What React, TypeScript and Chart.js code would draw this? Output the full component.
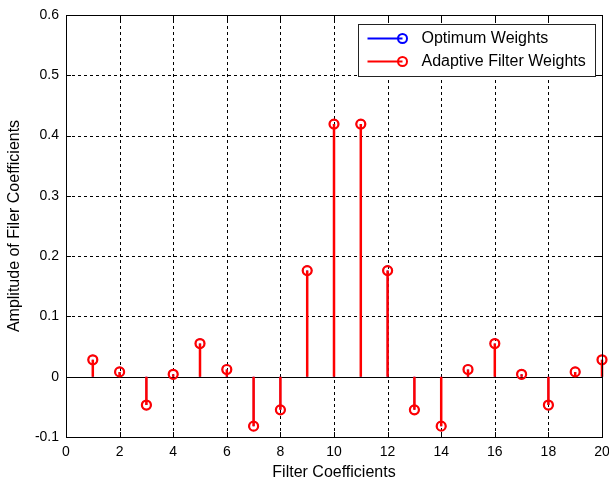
import React, { useEffect, useRef } from "react";
import { Chart, registerables } from "chart.js";

Chart.register(...registerables);

// ---- data ----
const coefficientIndex = [1, 2, 3, 4, 5, 6, 7, 8, 9, 10, 11, 12, 13, 14, 15, 16, 17, 18, 19, 20];
const optimumWeights = [0.028, 0.008, -0.047, 0.004, 0.055, 0.012, -0.082, -0.055, 0.176, 0.419, 0.419, 0.176, -0.055, -0.082, 0.012, 0.055, 0.004, -0.047, 0.008, 0.028];
const adaptiveWeights = [0.028, 0.008, -0.047, 0.004, 0.055, 0.012, -0.082, -0.055, 0.176, 0.419, 0.419, 0.176, -0.055, -0.082, 0.012, 0.055, 0.004, -0.047, 0.008, 0.028];
const xTickValues = [0, 2, 4, 6, 8, 10, 12, 14, 16, 18, 20];
const yTickValues = [-0.1, 0, 0.1, 0.2, 0.3, 0.4, 0.5, 0.6];
const seriesLabels = ["Optimum Weights", "Adaptive Filter Weights"];
const seriesColors = ["#0000FF", "#FF0000"];
const xTitle = "Filter Coefficients";
const yTitle = "Amplitude of Filer Coefficients";

const FONT = "'Liberation Sans', Arial, sans-serif";

function stemPoints(values: number[]) {
  const pts: { x: number; y: number | null }[] = [];
  coefficientIndex.forEach((x, i) => {
    pts.push({ x, y: 0 });
    pts.push({ x, y: values[i] });
    pts.push({ x, y: null });
  });
  return pts;
}

const framePlugin = {
  id: "matlabFrame",
  beforeDatasetsDraw(chart: any) {
    const { ctx, chartArea, scales } = chart;
    const { left, right, top, bottom } = chartArea;
    ctx.save();
    // dashed grid (MATLAB ':' grid)
    ctx.strokeStyle = "#000";
    ctx.lineWidth = 1;
    ctx.setLineDash([3, 3]);
    ctx.beginPath();
    xTickValues.forEach((v) => {
      const px = Math.round(scales.x.getPixelForValue(v)) + 0.5;
      ctx.moveTo(px, bottom);
      ctx.lineTo(px, top);
    });
    yTickValues.forEach((v) => {
      const py = Math.round(scales.y.getPixelForValue(v)) + 0.5;
      ctx.moveTo(left, py);
      ctx.lineTo(right, py);
    });
    ctx.stroke();
    // stem baseline
    ctx.setLineDash([]);
    const y0 = Math.round(scales.y.getPixelForValue(0)) + 0.5;
    ctx.beginPath();
    ctx.moveTo(left, y0);
    ctx.lineTo(right, y0);
    ctx.stroke();
    ctx.restore();
  },
  afterDatasetsDraw(chart: any) {
    const { ctx, chartArea, scales } = chart;
    const { left, right, top, bottom } = chartArea;
    ctx.save();
    ctx.strokeStyle = "#000";
    ctx.lineWidth = 1;
    ctx.setLineDash([]);
    ctx.strokeRect(Math.round(left) + 0.5, Math.round(top) + 0.5, Math.round(right - left), Math.round(bottom - top));
    const tl = 5;
    ctx.beginPath();
    xTickValues.forEach((v) => {
      const px = Math.round(scales.x.getPixelForValue(v)) + 0.5;
      ctx.moveTo(px, bottom);
      ctx.lineTo(px, bottom - tl);
      ctx.moveTo(px, top);
      ctx.lineTo(px, top + tl);
    });
    yTickValues.forEach((v) => {
      const py = Math.round(scales.y.getPixelForValue(v)) + 0.5;
      ctx.moveTo(left, py);
      ctx.lineTo(left + tl, py);
      ctx.moveTo(right, py);
      ctx.lineTo(right - tl, py);
    });
    ctx.stroke();

    // legend box (MATLAB style, inside axes, top-right)
    const boxW = 237;
    const boxH = 52;
    const bx = Math.round(right - 7 - boxW) + 0.5;
    const by = Math.round(top + 9) + 0.5;
    ctx.fillStyle = "#fff";
    ctx.fillRect(bx, by, boxW, boxH);
    ctx.strokeStyle = "#222";
    ctx.strokeRect(bx, by, boxW, boxH);
    chart.data.datasets.forEach((ds: any, i: number) => {
      const ly = by + 14 + i * 23;
      ctx.strokeStyle = ds.borderColor;
      ctx.lineWidth = 2;
      ctx.beginPath();
      ctx.moveTo(bx + 9, ly);
      ctx.lineTo(bx + 44, ly);
      ctx.stroke();
      ctx.beginPath();
      ctx.arc(bx + 44, ly, 4.5, 0, Math.PI * 2);
      ctx.stroke();
      ctx.fillStyle = "#000";
      ctx.font = `16px ${FONT}`;
      ctx.textBaseline = "middle";
      ctx.textAlign = "left";
      ctx.fillText(ds.label, bx + 63, ly);
    });
    ctx.restore();
  },
};

export default function App() {
  const canvasRef = useRef<HTMLCanvasElement | null>(null);

  useEffect(() => {
    if (!canvasRef.current) return;
    const seriesValues = [optimumWeights, adaptiveWeights];
    const datasets = seriesValues.map((vals, i) => ({
      type: "line" as const,
      label: seriesLabels[i],
      data: stemPoints(vals),
      borderColor: seriesColors[i],
      backgroundColor: "rgba(0,0,0,0)",
      borderWidth: i === 0 ? 1.5 : 2.5,
      spanGaps: false,
      showLine: true,
      pointRadius: (c: any) => (c.dataIndex % 3 === 1 ? 4.5 : 0),
      pointHoverRadius: (c: any) => (c.dataIndex % 3 === 1 ? 4.5 : 0),
      pointBorderWidth: i === 0 ? 1.2 : 2.2,
      pointBorderColor: seriesColors[i],
      pointBackgroundColor: "rgba(0,0,0,0)",
      pointStyle: "circle",
      order: i === 0 ? 2 : 1,
      clip: false as any,
      tension: 0,
    }));

    const chart = new Chart(canvasRef.current, {
      type: "line",
      data: { datasets },
      plugins: [framePlugin],
      options: {
        responsive: false,
        animation: false,
        layout: { padding: { left: 0, top: 15, right: 7, bottom: 0 } },
        plugins: {
          legend: { display: false },
          tooltip: { enabled: false },
        },
        scales: {
          x: {
            type: "linear",
            min: 0,
            max: 20,
            afterBuildTicks: (s: any) => {
              s.ticks = xTickValues.map((v) => ({ value: v }));
            },
            afterFit: (s: any) => {
              s.height = 45;
              s.paddingLeft = 0;
              s.paddingRight = 0;
            },
            ticks: {
              color: "#000",
              font: { family: FONT, size: 14 },
              padding: 7,
              maxRotation: 0,
              autoSkip: false,
              callback: (v: any) => String(v),
            },
            grid: { display: false, drawTicks: false },
            border: { display: false },
            title: {
              display: true,
              text: xTitle,
              color: "#000",
              font: { family: FONT, size: 16 },
              padding: { top: 0, bottom: 0 },
            },
          },
          y: {
            type: "linear",
            min: -0.1,
            max: 0.6,
            afterBuildTicks: (s: any) => {
              s.ticks = yTickValues.map((v) => ({ value: v }));
            },
            afterFit: (s: any) => {
              s.width = 66;
              s.paddingTop = 0;
              s.paddingBottom = 0;
            },
            ticks: {
              color: "#000",
              font: { family: FONT, size: 14 },
              padding: 7,
              autoSkip: false,
              callback: (v: any) => {
                const n = Math.round(Number(v) * 10) / 10;
                return n === 0 ? "0" : n.toFixed(1);
              },
            },
            grid: { display: false, drawTicks: false },
            border: { display: false },
            title: {
              display: true,
              text: yTitle,
              color: "#000",
              font: { family: FONT, size: 16 },
              padding: { top: 5, bottom: 0 },
            },
          },
        },
      },
    });
    return () => chart.destroy();
  }, []);

  return (
    <div style={{ position: "absolute", left: 0, top: 0, width: 609, height: 482 }}>
      <canvas ref={canvasRef} width={609} height={482} style={{ display: "block" }} />
    </div>
  );
}
